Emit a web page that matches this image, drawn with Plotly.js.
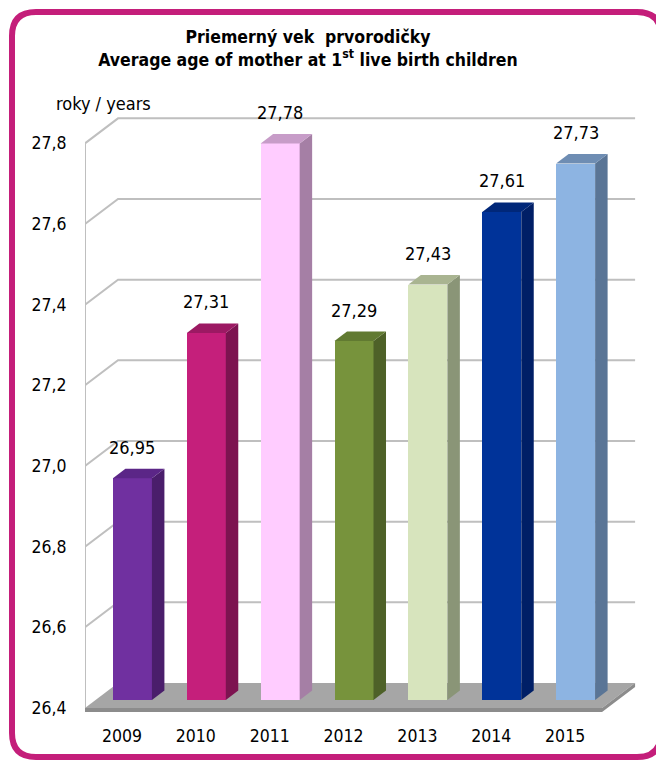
<!DOCTYPE html>
<html>
<head>
<meta charset="utf-8">
<script src="https://cdn.plot.ly/plotly-3.0.1.min.js"></script>
<style>html,body{margin:0;padding:0;background:#fff;}#chart{width:656px;height:764px;}</style>
</head>
<body>
<div id="chart"></div>
<script>
// ---- data ----
const years = ['2009', '2010', '2011', '2012', '2013', '2014', '2015'];
const values = [26.95, 27.31, 27.78, 27.29, 27.43, 27.61, 27.73];
const yTicks = [26.4, 26.6, 26.8, 27.0, 27.2, 27.4, 27.6, 27.8];

// ---- styles ----
const frontColors = ['#7030A0', '#C51F7B', '#FFCCFF', '#77933C', '#D7E4BD', '#003399', '#8DB4E2'];
const sideColors  = ['#4A1E6B', '#7D1350', '#A57FA5', '#4E6128', '#8A9577', '#001F66', '#5A7596'];
const topColors   = ['#5B2687', '#9C1963', '#C79CC8', '#617A31', '#A9B491', '#002779', '#6E8DB3'];
const FONT = '"DejaVu Sans Condensed", "DejaVu Sans", sans-serif';
const fmt = (v, d) => v.toFixed(d).replace('.', ',');

// ---- pseudo 3D geometry (in axis units) ----
const yMin = 26.4, yLow = 26.39, yMax = 27.9, xMin = -0.5, xMax = 7.0;
const nCat = years.length;
const floorDX = 0.447, floorDY = 0.062;   // depth of floor / walls
const barSX = 0.142, barSY = 0.0198;      // bars sit partially back
const barW = 0.528;
const sideDX = 0.169, sideDY = 0.0235;    // bar depth

const xs = years.map((_, i) => i);
const barX = xs.map(i => i + barSX);
const barBase = yMin + barSY;

const traces = [];
traces.push({
  type: 'bar', x: barX, y: values.map(v => v + barSY - barBase), base: barBase,
  width: barW, marker: {color: frontColors, line: {width: 0}},
  hoverinfo: 'skip', showlegend: false
});
values.forEach((v, i) => {
  const xl = barX[i] - barW / 2, xr = barX[i] + barW / 2, top = v + barSY;
  traces.push({
    type: 'scatter', mode: 'lines', fill: 'toself', fillcolor: sideColors[i],
    line: {width: 0, color: sideColors[i]},
    x: [xr, xr + sideDX, xr + sideDX, xr, xr],
    y: [barBase, barBase + sideDY, top + sideDY, top, barBase],
    hoverinfo: 'skip', showlegend: false
  });
  traces.push({
    type: 'scatter', mode: 'lines', fill: 'toself', fillcolor: topColors[i],
    line: {width: 0, color: topColors[i]},
    x: [xl, xr, xr + sideDX, xl + sideDX, xl],
    y: [top, top, top + sideDY, top + sideDY, top],
    hoverinfo: 'skip', showlegend: false
  });
});

// ---- walls, gridlines, floor ----
const shapes = [];
const gridCol = '#BFBFBF';
yTicks.slice(1).forEach(t => {
  shapes.push({type: 'path', layer: 'below', xref: 'x', yref: 'y',
    path: `M ${xMin},${t} L ${xMin + floorDX},${t + floorDY} L ${xMin + nCat + floorDX},${t + floorDY}`,
    line: {color: gridCol, width: 2}});
});
shapes.push({type: 'line', layer: 'below', xref: 'x', yref: 'y',
  x0: xMin, x1: xMin, y0: yMin, y1: yTicks[yTicks.length - 1], line: {color: gridCol, width: 2}});
const xEnd = xMin + nCat;
shapes.push({type: 'path', layer: 'below', xref: 'x', yref: 'y',
  path: `M ${xMin},${yMin} L ${xEnd},${yMin} L ${xEnd + floorDX},${yMin + floorDY} L ${xMin + floorDX},${yMin + floorDY} Z`,
  fillcolor: '#A6A6A6', line: {width: 0}});
shapes.push({type: 'path', layer: 'below', xref: 'x', yref: 'y',
  path: `M ${xMin},${yMin} L ${xEnd},${yMin} L ${xEnd + floorDX},${yMin + floorDY} L ${xEnd + floorDX},${yMin + floorDY - 0.01} L ${xEnd},${yLow} L ${xMin},${yLow} Z`,
  fillcolor: '#8C8C8C', line: {width: 0}});

// ---- outer magenta rounded frame (pixel -> paper) ----
const mL = 85, mR = 17, mT = 103, mB = 52, W = 656, H = 764;
const pw = W - mL - mR, ph = H - mT - mB;
const PX = p => (p - mL) / pw, PY = p => (H - mB - p) / ph;
const fl = 12, ft = 12, fr = 661, fb = 757, rr = 24;
shapes.push({type: 'path', xref: 'paper', yref: 'paper', layer: 'above',
  path: `M ${PX(fl + rr)},${PY(ft)} L ${PX(fr - rr)},${PY(ft)} Q ${PX(fr)},${PY(ft)} ${PX(fr)},${PY(ft + rr)} ` +
        `L ${PX(fr)},${PY(fb - rr)} Q ${PX(fr)},${PY(fb)} ${PX(fr - rr)},${PY(fb)} ` +
        `L ${PX(fl + rr)},${PY(fb)} Q ${PX(fl)},${PY(fb)} ${PX(fl)},${PY(fb - rr)} ` +
        `L ${PX(fl)},${PY(ft + rr)} Q ${PX(fl)},${PY(ft)} ${PX(fl + rr)},${PY(ft)} Z`,
  line: {color: '#C41E7A', width: 6}});

// ---- annotations ----
const annotations = values.map((v, i) => ({
  x: barX[i], y: v, xref: 'x', yref: 'y', text: fmt(v, 2), showarrow: false,
  yanchor: 'middle', yshift: 39, font: {family: FONT, size: 18, color: '#000'}
}));
annotations.push({xref: 'paper', yref: 'paper', x: PX(54), y: PY(103), xanchor: 'left', yanchor: 'middle',
  text: 'roky / years', showarrow: false, font: {family: FONT, size: 18, color: '#000'}});

const layout = {
  width: W, height: H,
  margin: {l: mL, r: mR, t: mT, b: mB},
  paper_bgcolor: '#fff', plot_bgcolor: '#fff',
  font: {family: FONT, color: '#000'},
  title: {
    text: '<b>Priemerný vek  prvorodičky<br>Average age of mother at 1<sup>st</sup> live birth children</b>',
    x: 308 / W, xref: 'container', xanchor: 'center',
    y: 1 - 43 / H, yref: 'container', yanchor: 'middle',
    font: {family: FONT, size: 17.5, color: '#000'}
  },
  xaxis: {
    range: [xMin, xMax], tickvals: xs, ticktext: years, showgrid: false, zeroline: false,
    showline: false, ticks: 'outside', ticklen: 8, tickcolor: 'rgba(0,0,0,0)',
    tickfont: {family: FONT, size: 17.5, color: '#000'}, fixedrange: true
  },
  yaxis: {
    range: [yLow, yMax], tickvals: yTicks, ticktext: yTicks.map(t => fmt(t, 1)),
    showgrid: false, zeroline: false, showline: false, ticks: 'outside', ticklen: 14,
    tickcolor: 'rgba(0,0,0,0)', tickfont: {family: FONT, size: 17.5, color: '#000'}, fixedrange: true
  },
  shapes: shapes,
  annotations: annotations,
  showlegend: false,
  bargap: 0
};

Plotly.newPlot('chart', traces, layout, {displayModeBar: false, staticPlot: true});
</script>
</body>
</html>
